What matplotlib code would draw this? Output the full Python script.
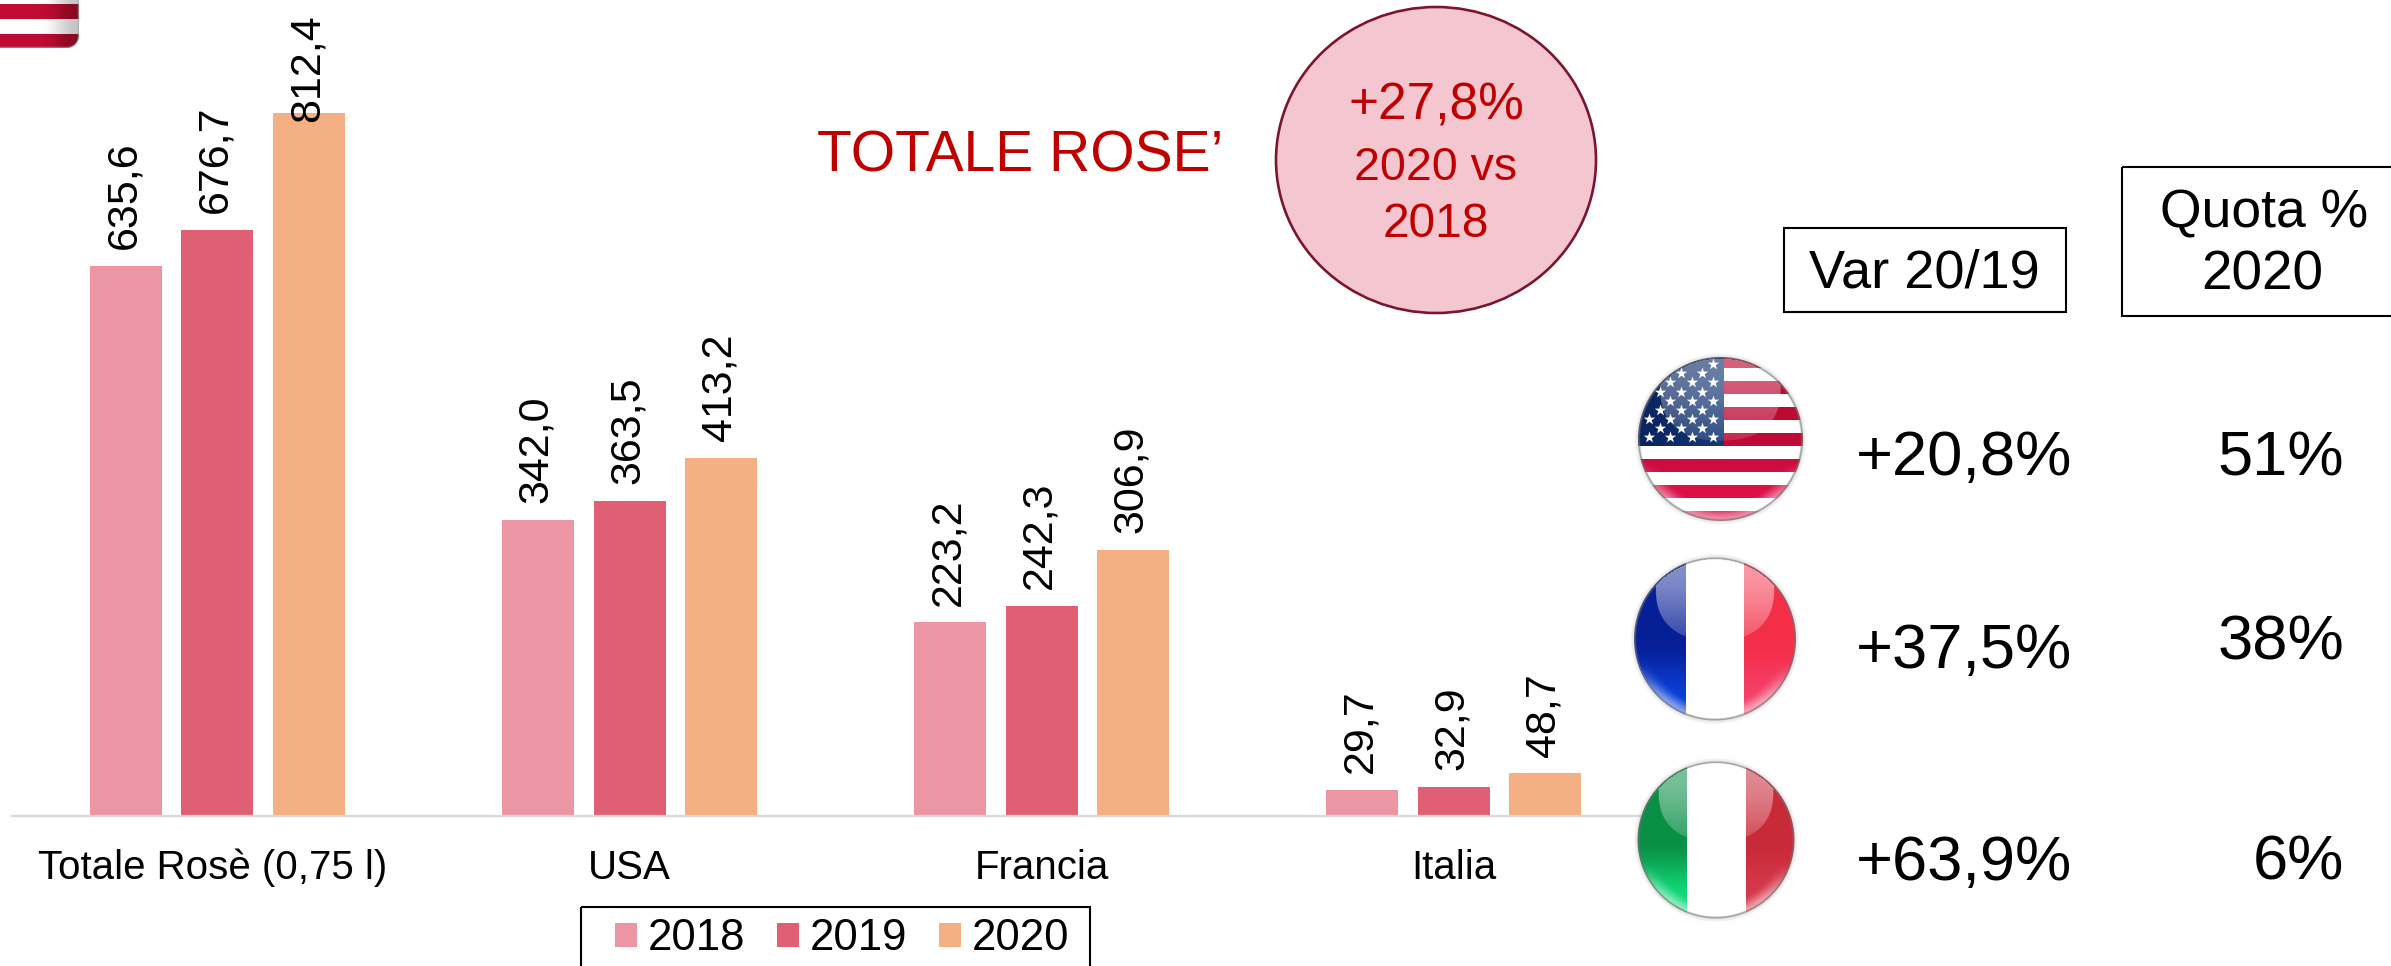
import numpy as np
import matplotlib
matplotlib.use("Agg")
import matplotlib.pyplot as plt
from matplotlib.patches import Ellipse, Rectangle

plt.rcParams['font.family'] = ['Liberation Sans', 'DejaVu Sans']

# ---------- data ----------
categories = ["Totale Rosè (0,75 l)", "USA", "Francia", "Italia"]
years = ["2018", "2019", "2020"]
v2018 = [635.6, 342.0, 223.2, 29.7]
v2019 = [676.7, 363.5, 242.3, 32.9]
v2020 = [812.4, 413.2, 306.9, 48.7]
var_labels = ["+20,8%", "+37,5%", "+63,9%"]
quota_labels = ["51%", "38%", "6%"]

bar_colors = ["#EC95A4", "#E05F75", "#F4AF82"]
RED = "#C00000"
W, H = 2391, 966
fig = plt.figure(figsize=(W / 100, H / 100), dpi=100, facecolor="white")

# ---------- bar chart ----------
base_y = 815.5
x_left, x_right = 12, 1640
ax = fig.add_axes([x_left / W, (H - base_y) / H, (x_right - x_left) / W, base_y / H])
ax.patch.set_alpha(0)
c0, step = 217.5, 412.0
ax.set_xlim((x_left - c0) / step, (x_right - c0) / step)
ax.set_ylim(0, base_y / 0.8647)
x = np.arange(len(categories))
bw, off = 72 / step, 91.5 / step
for i, (vals, col_, yr) in enumerate(zip([v2018, v2019, v2020], bar_colors, years)):
    ax.bar(x + (i - 1) * off, vals, bw, color=col_, label=yr, linewidth=0)
    for xi, v in zip(x + (i - 1) * off, vals):
        ax.text(xi - 0.004, min(v + 19.5, 802), f"{v:.1f}".replace(".", ","), rotation=90,
                ha="center", va="bottom", fontsize=31, color="black", clip_on=False)
for s in ["top", "left", "right"]:
    ax.spines[s].set_visible(False)
ax.spines["bottom"].set_color("#D9D9D9")
ax.spines["bottom"].set_linewidth(1.6)
ax.set_yticks([])
ax.set_xticks(x)
ax.set_xticklabels(categories, fontsize=29, color="black")
ax.get_xticklabels()[0].set_x(-0.012)
ax.tick_params(axis="x", length=0, pad=24)
ax.get_xticklabels()[0].set_transform(
    ax.get_xticklabels()[0].get_transform() + matplotlib.transforms.Affine2D().translate(-5, 0))

# ---------- overlay in pixel coordinates ----------
ov = fig.add_axes([0, 0, 1, 1], zorder=5)
ov.patch.set_alpha(0)
ov.axis("off")


def smooth(a, b, t):
    s = np.clip((t - a) / (b - a), 0, 1)
    return s * s * (3 - 2 * s)


def sphere(cx, cy, rx, ry, paint, stars=None, gloss_a=0.42):
    x0, x1 = int(cx - rx - 5), int(cx + rx + 6)
    y0, y1 = int(cy - ry - 5), int(cy + ry + 6)
    X, Y = np.meshgrid(np.arange(x0, x1) + 0.5, np.arange(y0, y1) + 0.5)
    u, v = (X - cx) / rx, (Y - cy) / ry
    d = np.sqrt(u ** 2 + v ** 2)
    rgb = paint(X, Y, u, v)
    # pale rim in the lower half
    rim = smooth(0.80, 1.0, d) * smooth(0.25, 0.8, v) * 0.55
    rgb = rgb * (1 - rim[..., None]) + rim[..., None]
    # grey outline
    ring = smooth(0.965, 0.99, d)[..., None] * 0.65
    rgb = rgb * (1 - ring) + np.array([0.45, 0.45, 0.45]) * ring
    alpha = np.clip((1 - d) * rx + 0.5, 0, 1)
    img = np.dstack([rgb, alpha])
    ext = (x0, x1, y1, y0)
    ov.imshow(img, extent=ext, interpolation="bilinear", aspect="auto", zorder=6)
    # soft outer shadow
    sh = np.clip((d - 1) * rx / 4, 0, 1)
    sh_a = (1 - sh) * 0.22 * (d >= 0.99)
    ov.imshow(np.dstack([np.full(d.shape + (3,), 0.5), sh_a]), extent=ext,
              interpolation="bilinear", aspect="auto", zorder=5.5)
    if stars is not None:
        ov.scatter(stars[0], stars[1], marker="*", s=75, color="white", linewidths=0, zorder=7)
    # gloss cap
    gu, gv = u / 0.73, (v + 0.62) / 0.64
    gd = (np.abs(gu) ** 2.4 + np.abs(gv) ** 2.4)
    g = smooth(1.03, 0.97, gd) * (gloss_a * (0.2 + 0.8 * smooth(0.4, -0.9, v))) * (d < 0.98)
    ov.imshow(np.dstack([np.ones(d.shape + (3,)), g]), extent=ext,
              interpolation="bilinear", aspect="auto", zorder=8)


def col(h):
    return np.array(matplotlib.colors.to_rgb(h))


def tricolor(left_dark, left_bright, right_dark, right_bright, xa, xb):
    def paint(X, Y, u, v):
        t = smooth(0.0, 0.75, v)[..., None]
        l = col(left_dark) * (1 - t) + col(left_bright) * t
        r = col(right_dark) * (1 - t) + col(right_bright) * t
        out = np.where((X < xa)[..., None], l, np.where((X >= xb)[..., None], r, np.ones(l.shape)))
        return out
    return paint


def usa_paint(X, Y, u, v):
    top = 355.0
    idx = np.floor((Y - top) / 13.0).astype(int)
    t = smooth(-0.2, 0.8, v)[..., None]
    red = col("#BC0A33") * (1 - t) + col("#DE1048") * t
    out = np.where((idx % 2 == 0)[..., None], red, np.ones(red.shape))
    canton = (X < 1724) & (Y < 446)
    shade = smooth(-1.0, 0.1, u)[..., None] * 0.5
    navy = col("#0A2560") * (1 - shade) + col("#1F4A8A") * shade
    return np.where(canton[..., None], navy, out)


# USA flag stars
star_rows = [72, 100, 127, 155, 182, 209, 236, 264, 291]
star_cols = [309, 277, 245, 213, 181, 149, 117, 85]
sx, sy = [], []
for r, zy in enumerate(star_rows):
    for c, zx in enumerate(star_cols):
        if (r + c) % 2 == 0:
            px, py = 1610 + zx / 3, 340 + zy / 3
            if ((px - 1720.5) / 80) ** 2 + ((py - 439) / 80) ** 2 < 1:
                sx.append(px)
                sy.append(py)

sphere(1720.5, 439, 82.5, 82, usa_paint, stars=(sx, sy), gloss_a=0.36)
sphere(1715, 639, 81, 81.5,
       tricolor("#061F96", "#0A3FD8", "#F52E48", "#F4406A", 1686, 1744), gloss_a=0.5)
sphere(1716, 840, 78.5, 78.5,
       tricolor("#0A8F47", "#12D878", "#C92A38", "#D63A4C", 1687, 1746), gloss_a=0.45)

# cropped flag in the top-left corner
X, Y = np.meshgrid(np.arange(0, 80) + 0.5, np.arange(0, 50) + 0.5)
stripe = ((Y >= 4) & (Y < 19)) | (Y >= 34)
fade = smooth(40, 78, X)[..., None]
red = col("#C00A33") * (1 - fade) + col("#860A22") * fade
wht = np.ones(red.shape) * (1 - fade) + col("#C4C4C4") * fade
tl = np.where(stripe[..., None], red, wht)
dx, dy = np.clip(X - 67, 0, None), np.clip(Y - 36, 0, None)
cd = np.sqrt(dx ** 2 + dy ** 2)
edge = smooth(10, 11.5, cd)[..., None] * 0.6
tl = tl * (1 - edge) + np.array([0.65, 0.65, 0.65]) * edge
ov.imshow(np.dstack([tl, np.clip(12.5 - cd, 0, 1)]), extent=(0, 80, 50, 0),
          interpolation="bilinear", aspect="auto", zorder=6)

# circle
ov.add_patch(Ellipse((1436, 160), 320, 306, facecolor="#F4C7D0", edgecolor="#7B1530", linewidth=1.9, zorder=3))
ov.text(1436, 120, "+27,8%", color=RED, fontsize=37, ha="center", va="baseline", zorder=4)
ov.text(1436, 180, "2020 vs", color=RED, fontsize=33.5, ha="center", va="baseline", zorder=4)
ov.text(1436, 237, "2018", color=RED, fontsize=34.5, ha="center", va="baseline", zorder=4)

# title
ov.text(817, 171, "TOTALE ROSE’", color=RED, fontsize=41, ha="left", va="baseline")

# header boxes
ov.add_patch(Rectangle((1784, 227.5), 282, 84, fill=False, edgecolor="black", linewidth=1.5))
ov.add_patch(Rectangle((2122, 167), 300, 149, fill=False, edgecolor="black", linewidth=1.5))
ov.text(1924, 287, "Var 20/19", fontsize=39, ha="center", va="baseline")
ov.text(2264, 227, "Quota %", fontsize=38.5, ha="center", va="baseline")
ov.text(2262, 290, "2020", fontsize=39.5, ha="center", va="baseline")

# right-hand values
for lab, yb in zip(var_labels, [475, 668, 880]):
    ov.text(1856, yb, lab, fontsize=45.5, ha="left", va="baseline")
for lab, yb in zip(quota_labels, [475, 660, 880]):
    ov.text(2344, yb, lab, fontsize=45.5, ha="right", va="baseline")

# legend
ov.add_patch(Rectangle((581, 907), 509, 80, fill=False, edgecolor="black", linewidth=1.5, clip_on=True))
ov.set_xlim(0, W)
ov.set_ylim(H, 0)
h, l = ax.get_legend_handles_labels()
ov.legend(h, l, loc="center left", bbox_to_anchor=(615, 939), bbox_transform=ov.transData,
          ncol=3, frameon=False, fontsize=31.5, borderpad=0, borderaxespad=0,
          handlelength=0.5, handleheight=0.5, handletextpad=0.25, columnspacing=0.72)

fig.savefig("out.png", dpi=100, facecolor="white")
